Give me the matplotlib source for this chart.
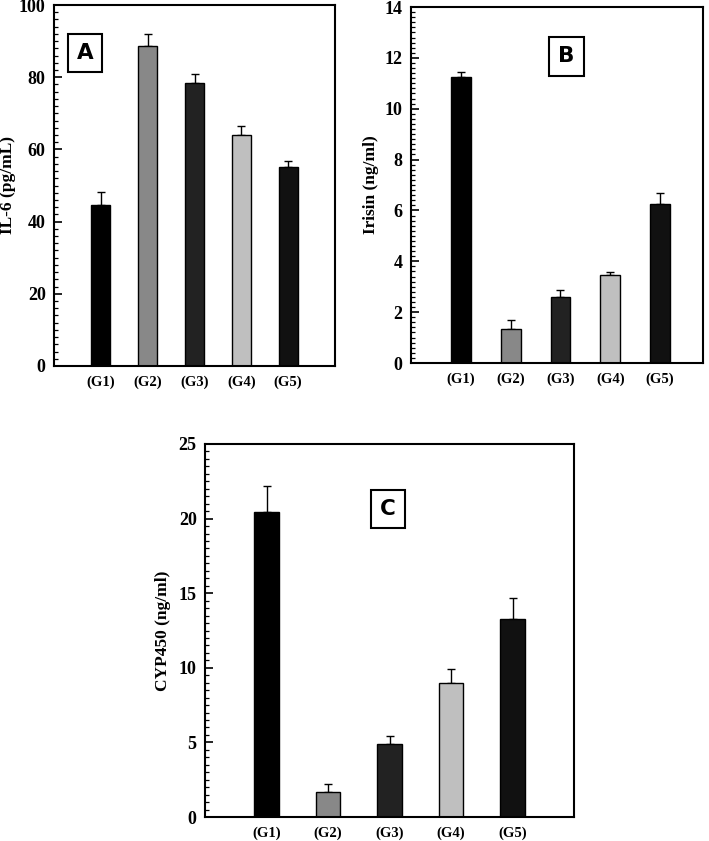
import matplotlib
matplotlib.use("Agg")
import matplotlib.pyplot as plt
from matplotlib.ticker import MultipleLocator

groups = ["(G1)", "(G2)", "(G3)", "(G4)", "(G5)"]
colors = ["#000000", "#888888", "#222222", "#bfbfbf", "#111111"]

il6_mean = [44.6, 88.7, 78.3, 64.1, 55.0]
il6_err = [3.5, 3.3, 2.5, 2.5, 1.8]

irisin_mean = [11.23, 1.34, 2.61, 3.45, 6.25]
irisin_err = [0.20, 0.35, 0.25, 0.14, 0.42]

cyp_mean = [20.43, 1.68, 4.88, 8.95, 13.29]
cyp_err = [1.74, 0.56, 0.56, 0.94, 1.39]

W, H = 709, 841
fig = plt.figure(figsize=(W / 100, H / 100), dpi=100)

serif = ["Liberation Serif", "DejaVu Serif"]


def px_axes(left, top, right, bottom):
    return fig.add_axes([left / W, (H - bottom) / H, (right - left) / W, (bottom - top) / H])


def panel(ax, means, errs, ymax, major, minor, ylabel, letter, box_xy, label_x, xmax):
    x = list(range(1, len(groups) + 1))
    ax.bar(x, means, width=0.4, color=colors, edgecolor="black", linewidth=1.0, zorder=2)
    ax.errorbar(x, means, yerr=[[0] * len(errs), errs], fmt="none", ecolor="black",
                elinewidth=1.0, capsize=3, capthick=1.0, zorder=1)
    ax.set_xlim(0, xmax)
    ax.set_ylim(0, ymax)
    ax.set_xticks(x)
    ax.set_xticklabels(groups, fontfamily=serif, fontweight="bold", fontsize=10.5)
    ax.yaxis.set_major_locator(MultipleLocator(major))
    ax.yaxis.set_minor_locator(MultipleLocator(minor))
    ax.tick_params(axis="x", length=0, pad=7)
    ax.tick_params(axis="y", which="major", direction="in", length=6, width=1.2, pad=6)
    ax.tick_params(axis="y", which="minor", direction="in", length=3, width=0.9)
    ax.tick_params(axis="y", right=False)
    for lab in ax.get_yticklabels():
        lab.set_fontfamily(serif)
        lab.set_fontweight("bold")
        lab.set_fontsize(13)
    for s in ax.spines.values():
        s.set_linewidth(1.5)
    ax.set_ylabel(ylabel, fontfamily=serif, fontweight="bold", fontsize=12.5)
    ax.yaxis.set_label_coords(label_x, 0.5)
    ax.text(box_xy[0], box_xy[1], letter, transform=ax.transAxes, ha="center", va="center",
            fontsize=15.5, fontweight="bold", fontfamily="DejaVu Sans",
            bbox=dict(boxstyle="square,pad=0.42", facecolor="white", edgecolor="black", linewidth=1.5))


axA = px_axes(54, 5, 335, 366)
panel(axA, il6_mean, il6_err, 100, 20, 2, "IL-6 (pg/mL)", "A", (0.11, 0.868), -0.135, 6)

axB = px_axes(411, 7, 703, 363)
panel(axB, irisin_mean, irisin_err, 14, 2, 0.2, "Irisin (ng/ml)", "B", (0.533, 0.861), -0.11, 5.86)

axC = px_axes(205, 444, 574, 817)
panel(axC, cyp_mean, cyp_err, 25, 5, 0.5, "CYP450 (ng/ml)", "C", (0.496, 0.826), -0.092, 6)

fig.savefig("out.png", dpi=100)
